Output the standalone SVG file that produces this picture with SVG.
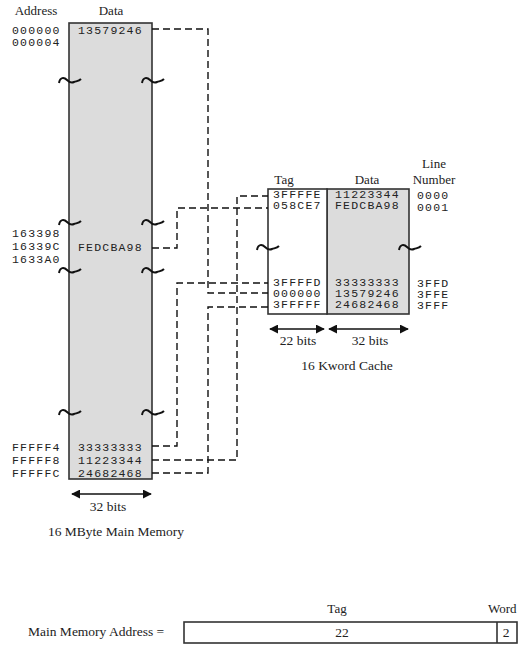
<svg xmlns="http://www.w3.org/2000/svg" width="519" height="645" viewBox="0 0 519 645">
<style>
.lbl{font-family:"Liberation Serif","Times New Roman",serif;font-size:13.5px;fill:#222}
.hdr{font-family:"Liberation Serif","Times New Roman",serif;font-size:13px;fill:#222}
.hex{font-family:"Liberation Mono","Courier New",monospace;font-size:11.5px;letter-spacing:1.2px;fill:#222}
.box{stroke:#333;stroke-width:1.6}
.dash{fill:none;stroke:#111;stroke-width:1.4;stroke-dasharray:7,4}
.brk{fill:none;stroke:#111;stroke-width:2}
.arr{stroke:#111;stroke-width:1.6;marker-start:url(#ah);marker-end:url(#ah)}
</style>
<defs>
<marker id="ah" viewBox="0 0 10 10" refX="9" refY="5" markerWidth="9" markerHeight="9" markerUnits="userSpaceOnUse" orient="auto-start-reverse">
<path d="M0,0 L10,5 L0,10 z" fill="#111"/>
</marker>
<path id="bk" d="M-11,3 C-10,-3 -6,-3 -3,0 C0,3 2,3 4,2 C7,1 9,1 11,-1"/>
</defs>

<g id="main-memory">
<text class="hdr" x="36" y="15" text-anchor="middle">Address</text>
<text class="hdr" x="111" y="15" text-anchor="middle">Data</text>
<rect class="box" x="69" y="23" width="83" height="456" fill="#dcdcdc"/>
<text class="hex" x="12" y="34">000000</text>
<text class="hex" x="12" y="46">000004</text>
<text class="hex" x="78" y="34">13579246</text>
<text class="hex" x="12" y="237">163398</text>
<text class="hex" x="12" y="250">16339C</text>
<text class="hex" x="12" y="263">1633A0</text>
<text class="hex" x="78" y="251">FEDCBA98</text>
<text class="hex" x="12" y="451">FFFFF4</text>
<text class="hex" x="12" y="464">FFFFF8</text>
<text class="hex" x="12" y="477">FFFFFC</text>
<text class="hex" x="78" y="451">33333333</text>
<text class="hex" x="78" y="464">11223344</text>
<text class="hex" x="78" y="477">24682468</text>
<g class="brk">
<use href="#bk" x="70" y="80"/><use href="#bk" x="153" y="80"/>
<use href="#bk" x="70" y="222"/><use href="#bk" x="153" y="222"/>
<use href="#bk" x="70" y="270"/><use href="#bk" x="153" y="270"/>
<use href="#bk" x="70" y="412"/><use href="#bk" x="153" y="412"/>
</g>
<line class="arr" x1="72" y1="494" x2="151" y2="494"/>
<text class="lbl" x="108" y="511" text-anchor="middle">32 bits</text>
<text class="lbl" x="116" y="536" text-anchor="middle">16 MByte Main Memory</text>
</g>

<g id="cache">
<text class="hdr" x="284" y="184" text-anchor="middle">Tag</text>
<text class="hdr" x="367" y="184" text-anchor="middle">Data</text>
<text class="hdr" x="434" y="168" text-anchor="middle">Line</text>
<text class="hdr" x="434" y="184" text-anchor="middle">Number</text>
<rect class="box" x="327" y="189" width="82" height="125" fill="#dcdcdc"/>
<rect class="box" x="268" y="189" width="59" height="125" fill="#fff"/>
<text class="hex" x="273" y="198">3FFFFE</text>
<text class="hex" x="273" y="209">058CE7</text>
<text class="hex" x="273" y="286">3FFFFD</text>
<text class="hex" x="273" y="297">000000</text>
<text class="hex" x="273" y="308">3FFFFF</text>
<text class="hex" x="335" y="198">11223344</text>
<text class="hex" x="335" y="209">FEDCBA98</text>
<text class="hex" x="335" y="286">33333333</text>
<text class="hex" x="335" y="297">13579246</text>
<text class="hex" x="335" y="308">24682468</text>
<text class="hex" x="417" y="199">0000</text>
<text class="hex" x="417" y="211">0001</text>
<text class="hex" x="417" y="287">3FFD</text>
<text class="hex" x="417" y="298">3FFE</text>
<text class="hex" x="417" y="309">3FFF</text>
<g class="brk">
<use href="#bk" x="268" y="247"/><use href="#bk" x="410" y="247"/>
</g>
<line class="arr" x1="270" y1="329" x2="324" y2="329"/>
<line class="arr" x1="329" y1="329" x2="408" y2="329"/>
<text class="lbl" x="298" y="345" text-anchor="middle">22 bits</text>
<text class="lbl" x="370" y="345" text-anchor="middle">32 bits</text>
<text class="lbl" x="347" y="370" text-anchor="middle">16 Kword Cache</text>
</g>

<g id="address-format">
<text class="lbl" x="28" y="636">Main Memory Address =</text>
<text class="hdr" x="337" y="613" text-anchor="middle">Tag</text>
<text class="hdr" x="488" y="613">Word</text>
<rect class="box" x="184" y="622" width="333" height="21" fill="#fff"/>
<line class="box" x1="497" y1="622" x2="497" y2="643"/>
<text class="lbl" x="342" y="637" text-anchor="middle">22</text>
<text class="lbl" x="506" y="637" text-anchor="middle">2</text>
</g>

<g id="connectors">
<path class="dash" d="M152,29 H208 V293 H268"/>
<path class="dash" d="M152,248 H177 V208 H268"/>
<path class="dash" d="M152,446 H177 V283 H268"/>
<path class="dash" d="M152,460 H237 V196 H268"/>
<path class="dash" d="M152,473 H208 V307 H268"/>
</g>
</svg>
